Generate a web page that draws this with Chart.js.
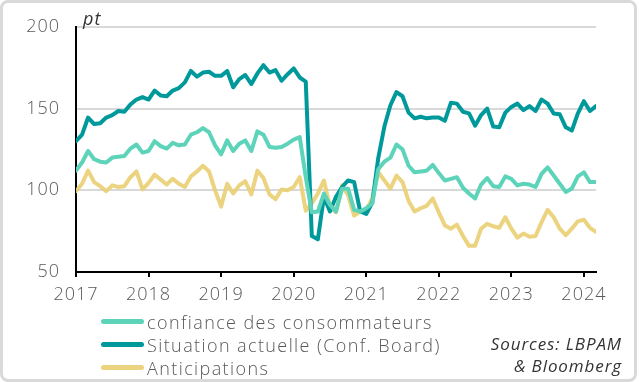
<!DOCTYPE html>
<html lang="fr">
<head>
<meta charset="utf-8">
<script src="https://cdn.jsdelivr.net/npm/chart.js@4.4.1/dist/chart.umd.min.js"></script>
<style>
  html, body { margin: 0; padding: 0; background: #fff; }
  #frame {
    position: relative;
    width: 637px; height: 382px;
    box-sizing: border-box;
    border: 3px solid #d9d9d9;
    border-radius: 8px;
    overflow: hidden;
    font-family: "Open Sans", "Lato", sans-serif;
  }
  #chart { position: absolute; left: -3px; top: -3px; }
  .unit { position: absolute; left: 80px; top: 3px; font-size: 18px; font-style: italic; color: #333; letter-spacing: 1px; }
  .legend { position: absolute; left: 98px; top: 307px; }
  .legend-item { height: 23px; display: flex; align-items: center; font-size: 18px; font-weight: 300; color: #595959; letter-spacing: 1.4px; }
  .swatch { width: 43px; height: 5px; border-radius: 3px; margin-right: 3px; }
  .sources { position: absolute; right: 12px; top: 330px; text-align: right; font-size: 17px; font-style: italic; color: #333; line-height: 22px; letter-spacing: 0.9px; }
</style>
</head>
<body>
<div id="frame">
  <canvas id="chart" width="639" height="382"></canvas>
  <div class="unit">pt</div>
  <div class="legend" id="legend"></div>
  <div class="sources">Sources: LBPAM<br>&amp; Bloomberg</div>
</div>
<script>
const years = ['2017', '2018', '2019', '2020', '2021', '2022', '2023', '2024'];
const yTicks = [50, 100, 150, 200];

// monthly, Jan 2017 -> Mar 2024
const confiance = [
  112, 117, 124, 119, 117.5, 117, 120, 120.5, 121, 125.5, 128, 123,
  124, 130, 127, 125.5, 129, 127.5, 128, 134, 135.5, 138, 135.5, 127.5,
  122, 130.5, 124, 128.5, 130.5, 124, 136, 134, 126.5, 126, 126.5, 128.5,
  131, 132.5, 108, 86.5, 87, 98, 91, 87, 101, 101, 88, 87,
  89, 92, 113, 117.5, 120, 128, 125, 115, 111, 111.5, 112, 115.5,
  110.5, 106, 107, 108, 101.5, 98, 95, 103.5, 107.5, 102.5, 102, 108.5,
  107, 103, 104, 103.5, 102, 110, 114, 109, 104, 99, 101, 108.5,
  111, 105, 105
];
const situation = [
  130, 134, 144.5, 140.5, 141, 144.5, 146, 148.5, 148, 152.5, 155.5, 157,
  155.5, 161, 158, 157.5, 161, 162.5, 166, 173, 169.5, 172, 172.5, 170,
  170, 173, 163, 168, 170.5, 165, 171.5, 176.5, 172, 173.5, 167, 171,
  174.5, 169, 166.5, 72, 70, 96, 87, 96, 102, 106, 105, 87,
  85.5, 92.5, 120, 139, 152, 160, 157.5, 147.5, 144, 145, 144, 144.5,
  144.5, 142.5, 153.5, 153, 148, 147, 139.5, 146, 150, 139, 138.5, 147.5,
  151, 153, 149, 151.5, 148.5, 155.5, 153, 147, 146.5, 138.5, 136.5, 147,
  154.5, 148.5, 151.5
];
const anticipations = [
  99.5, 104, 112, 105, 102.5, 99.5, 103, 102, 102.5, 108, 111.5, 100.5,
  104.5, 109.5, 106.5, 103.5, 107, 104, 102, 108.5, 111.5, 115, 111.5, 100,
  90, 104, 98, 103, 105.5, 97.5, 112, 107.5, 97.5, 94.5, 100.5, 100,
  102, 108, 87.5, 92, 98, 106, 90, 86.5, 103, 97, 84.5, 87,
  88, 95, 111, 106, 101, 109, 105, 93.5, 87, 89, 90.5, 95,
  86.5, 78.5, 76.5, 79, 72, 66, 66, 76.5, 79.5, 78, 77, 83.5,
  76.5, 71, 73.5, 71.5, 72, 80.5, 88, 83.5, 76.5, 72.5, 76.5, 81,
  82, 77, 74.5
];

const series = [
  { label: 'confiance des consommateurs', data: confiance, color: '#5dd4b9' },
  { label: 'Situation actuelle (Conf. Board)', data: situation, color: '#00999b' },
  { label: 'Anticipations', data: anticipations, color: 'rgba(234, 207, 116, 0.92)' },
];

const toPoints = arr => arr.map((v, i) => ({ x: i, y: v }));

const legendEl = document.getElementById('legend');
legendEl.innerHTML = series.map(s => `
  <div class="legend-item"><span class="swatch" style="background:${s.color}"></span>${s.label}</div>
`).join('');

const tickFont = { family: '"Open Sans", "Lato", sans-serif', size: 18, weight: 300 };

// wider tick text, closer to the original typeface
const spacing = {
  id: 'spacing',
  beforeDraw: chart => { chart.ctx.letterSpacing = '1px'; },
};

new Chart(document.getElementById('chart'), {
  type: 'line',
  data: {
    datasets: series.map(s => ({
      label: s.label,
      data: toPoints(s.data),
      borderColor: s.color,
      borderWidth: 4,
      pointRadius: 0,
      tension: 0,
      borderJoinStyle: 'round',
      borderCapStyle: 'round',
      fill: false,
    })),
  },
  plugins: [spacing],
  options: {
    responsive: false,
    animation: false,
    layout: { padding: { left: 0, right: 43, top: 17, bottom: 0 } },
    plugins: { legend: { display: false }, tooltip: { enabled: false } },
    scales: {
      x: {
        type: 'linear',
        min: 0,
        max: 86,
        afterBuildTicks: axis => { axis.ticks = years.map((y, i) => ({ value: i * 12 })); },
        afterFit: axis => { axis.height = 110; },
        grid: { drawOnChartArea: false, drawTicks: true, tickLength: 5, color: '#000', lineWidth: 2 },
        border: { color: '#000', width: 2 },
        ticks: {
          color: '#595959',
          font: tickFont,
          padding: 7,
          maxRotation: 0,
          callback: v => years[v / 12],
        },
      },
      y: {
        min: 50,
        max: 200,
        afterBuildTicks: axis => { axis.ticks = yTicks.map(v => ({ value: v })); },
        afterFit: axis => { axis.width = 76; },
        grid: {
          drawTicks: false,
          lineWidth: 2,
          color: ctx => ctx.tick && ctx.tick.value === 50 ? 'rgba(0,0,0,0)' : '#d9d9d9',
        },
        border: { color: '#000', width: 2 },
        ticks: { color: '#595959', font: tickFont, padding: 16 },
      },
    },
  },
});
</script>
</body>
</html>
